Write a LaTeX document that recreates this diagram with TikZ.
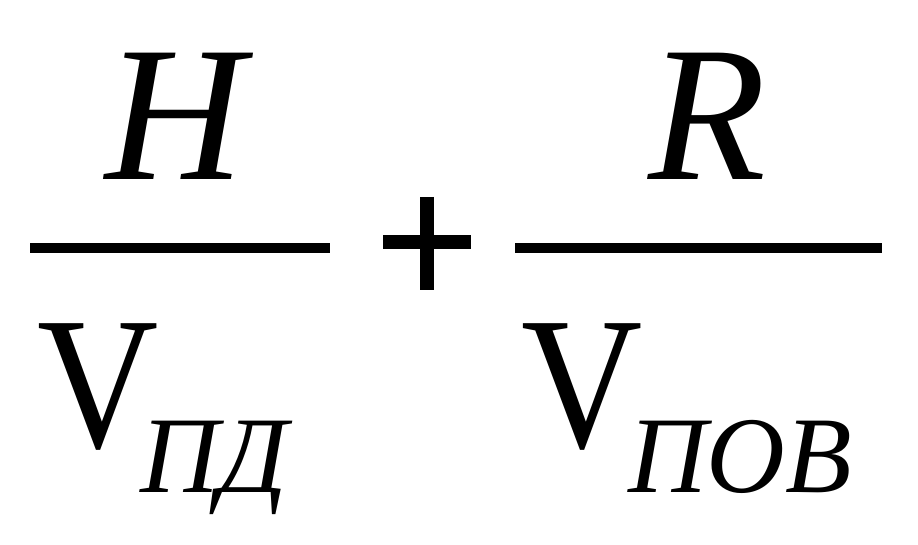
\documentclass[tikz,border=0pt]{standalone}
\usepackage{fontspec}
\setmainfont{Liberation Serif}
\begin{document}
\begin{tikzpicture}[x=1pt,y=1pt,
  big/.style={inner sep=0pt,outer sep=0pt,anchor=base west,font=\fontsize{193}{200}\selectfont},
  small/.style={inner sep=0pt,outer sep=0pt,anchor=base west,font=\fontsize{109}{115}\selectfont\itshape},
  bar/.style={line width=10pt}]
\useasboundingbox (0,0) rectangle (918,544);
\node[big] (H) at (105,364) {\itshape H};
\node[big] (R) at (648,364) {\itshape R};
\node[big] (V1) at (37,97) {\scalebox{0.87}[0.98]{V}};
\node[big] (V2) at (521,97) {\scalebox{0.87}[0.98]{V}};
\node[small] (s1) at (140,52) {ПД};
\node[small] (s2) at (628,52) {ПОВ};
\coordinate (b1l) at (30,296);
\coordinate (b1r) at (330,296);
\coordinate (b2l) at (515,296);
\coordinate (b2r) at (882,296);
\draw[bar] (b1l) -- (b1r);
\draw[bar] (b2l) -- (b2r);
\coordinate (pl) at (383,302);
\coordinate (pr) at (471,302);
\coordinate (pt) at (427,347);
\coordinate (pb) at (427,254);
\draw[line width=14pt] (pl) -- (pr);
\draw[line width=14pt] (pt) -- (pb);
\end{tikzpicture}
\end{document}
